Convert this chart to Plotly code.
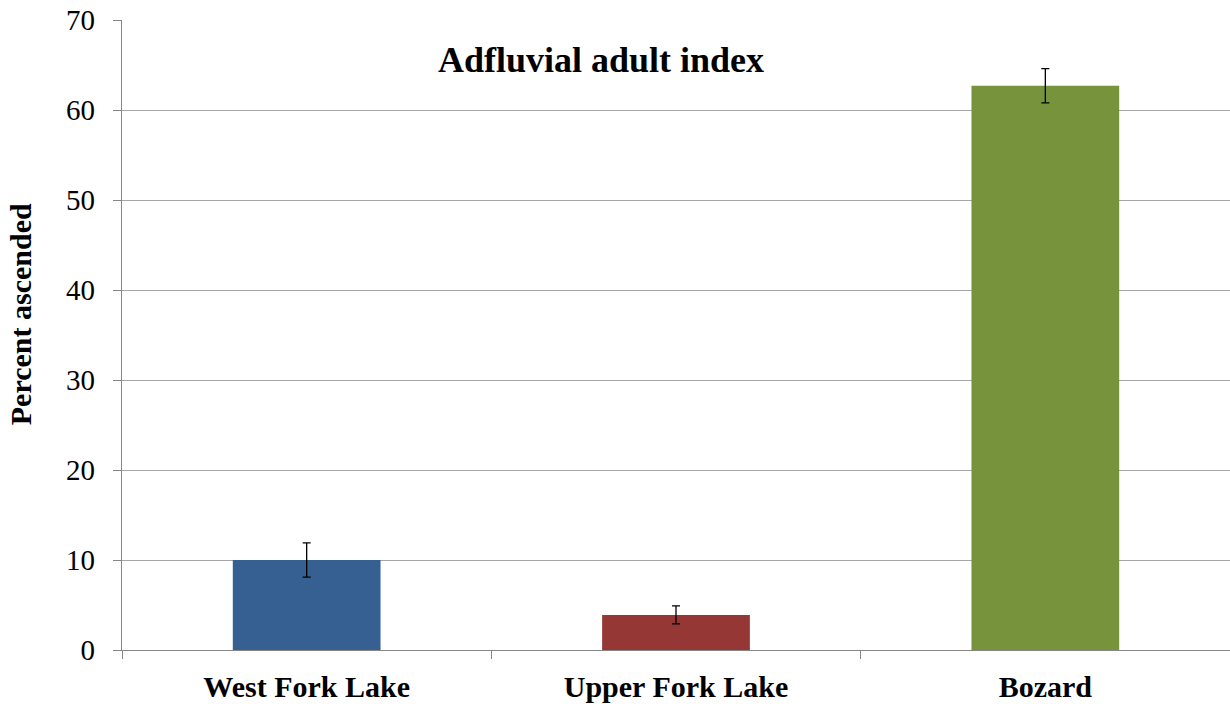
import plotly.graph_objects as go

categories = ["West Fork Lake", "Upper Fork Lake", "Bozard"]
values = [10.0, 3.9, 62.7]
errors = [1.9, 1.0, 1.9]
colors = ["#366092", "#953735", "#77933C"]
y_ticks = [0, 10, 20, 30, 40, 50, 60, 70]

fig = go.Figure()
fig.add_trace(go.Bar(
    x=categories, y=values, width=0.4,
    marker=dict(color=colors, line=dict(width=0)),
    error_y=dict(type="data", array=errors, visible=True, color="black", thickness=1.3, width=4),
))

font = "Liberation Serif, Times New Roman, serif"
fig.update_layout(
    width=1230, height=704,
    margin=dict(l=122, r=0, t=20, b=54),
    plot_bgcolor="white", paper_bgcolor="white",
    showlegend=False,
    font=dict(family=font, color="black"),
    xaxis=dict(
        automargin=False,
        showline=True, linecolor="#868686", linewidth=1.3,
        ticks="outside", tickson="boundaries", ticklen=8, tickcolor="#868686",
        tickfont=dict(family=font, size=30, color="black", weight="bold"),
        ticklabelstandoff=10, ticklabeloverflow="allow",
        showgrid=False,
    ),
    yaxis=dict(
        automargin=False,
        range=[0, 70], tickvals=y_ticks,
        showline=True, linecolor="#868686", linewidth=1.3,
        ticks="outside", ticklen=8, tickcolor="#868686",
        tickfont=dict(family=font, size=29, color="black"),
        ticklabelstandoff=12, ticklabeloverflow="allow",
        showgrid=True, gridcolor="#A6A6A6", gridwidth=1.3,
        zeroline=False,
    ),
    annotations=[
        dict(
            text="Adfluvial adult index", xref="paper", yref="paper",
            x=0.432, y=0.937, xanchor="center", yanchor="middle", showarrow=False,
            font=dict(family=font, size=36, color="black", weight="bold"),
        ),
        dict(
            text="Percent ascended", xref="paper", yref="paper",
            x=0, y=0.533, xshift=-102, xanchor="center", yanchor="middle",
            textangle=-90, showarrow=False,
            font=dict(family=font, size=30, color="black", weight="bold"),
        ),
    ],
)

fig.write_html(
    "out.html",
    config={"displayModeBar": False},
    post_script="document.body.style.margin='0';document.body.style.overflow='hidden';",
)
